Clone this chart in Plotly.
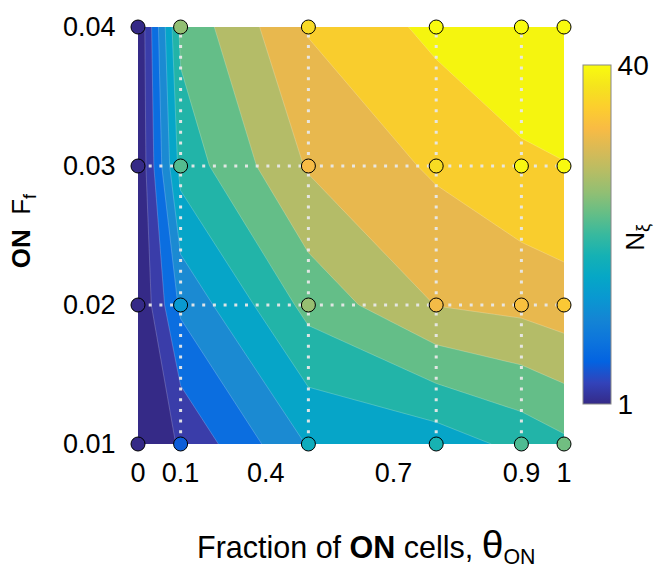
import plotly.graph_objects as go

# ---- data ----
theta_on = [0, 0.1, 0.4, 0.7, 0.9, 1]          # x grid (fraction of ON cells)
ff_on = [0.01, 0.02, 0.03, 0.04]                # y grid (ON F_f)
# N_xi values, rows = ff_on, cols = theta_on
n_xi = [
    [1, 5.4, 16.9, 18.3, 21.7, 23.6],
    [1, 13.5, 25.7, 32.3, 33.3, 34.4],
    [1, 22.0, 32.6, 36.7, 39.5, 39.9],
    [1, 25.4, 36.4, 41.0, 42.0, 42.5],
]
x_tick_pos = [0, 0.1, 0.3, 0.6, 0.9, 1]
x_tick_text = ["0", "0.1", "0.4", "0.7", "0.9", "1"]
y_tick_vals = [0.01, 0.02, 0.03, 0.04]
y_tick_text = ["0.01", "0.02", "0.03", "0.04"]
grid_x = [0.1, 0.4, 0.7, 0.9]
grid_y = [0.02, 0.03]
cmin, cmax = 1, 40
level_start, level_end, level_size = 4.9, 40, 3.9

FONT = "Liberation Sans, Arial, sans-serif"

band_colors = ["#352a87", "#3a3da9", "#0b6ee0", "#1b8ad2", "#06a5c8", "#22b4a8",
               "#64be88", "#b4bc68", "#e8b84e", "#f9cd2d", "#f5f50f"]
band_scale = [[i / 10, c] for i, c in enumerate(band_colors)]

parula_pts = [
    (0.2081, 0.1663, 0.5292), (0.1959, 0.2645, 0.7279), (0.0117, 0.3875, 0.8820),
    (0.0498, 0.4586, 0.8641), (0.0793, 0.5200, 0.8312), (0.0343, 0.5966, 0.8199),
    (0.0228, 0.6535, 0.7768), (0.0843, 0.6928, 0.7062), (0.2178, 0.7250, 0.6193),
    (0.3953, 0.7459, 0.5244), (0.5709, 0.7485, 0.4494), (0.7184, 0.7411, 0.3905),
    (0.8507, 0.7299, 0.3360), (0.9739, 0.7314, 0.2666), (0.9880, 0.8066, 0.1794),
    (0.9589, 0.8949, 0.1132), (0.9763, 0.9831, 0.0538),
]
n = len(parula_pts)
parula = [[i / (n - 1), "rgb(%d,%d,%d)" % tuple(round(v * 255) for v in p)]
          for i, p in enumerate(parula_pts)]

fig = go.Figure()

fig.add_trace(go.Contour(
    x=theta_on, y=ff_on, z=n_xi,
    colorscale=band_scale, showscale=False,
    autocontour=False,
    contours=dict(start=level_start, end=level_end, size=level_size,
                  coloring="fill", showlines=True),
    line=dict(width=0.6, color="rgba(255,255,255,0.35)", smoothing=0),
    hoverinfo="skip",
))

# dotted grid lines through sample points
lx, ly = [], []
for gx in grid_x:
    lx += [gx, gx, None]
    ly += [ff_on[0], ff_on[-1], None]
for gy in grid_y:
    lx += [theta_on[0], theta_on[-1], None]
    ly += [gy, gy, None]
fig.add_trace(go.Scatter(
    x=lx, y=ly, mode="lines",
    line=dict(color="rgba(232,232,232,0.95)", width=3, dash="3px,7.7px"),
    hoverinfo="skip", showlegend=False, cliponaxis=False,
))

# sample points
px, py, pc = [], [], []
for j, yv in enumerate(ff_on):
    for i, xv in enumerate(theta_on):
        px.append(xv)
        py.append(yv)
        pc.append(n_xi[j][i])
fig.add_trace(go.Scatter(
    x=px, y=py, mode="markers", cliponaxis=False, showlegend=False,
    marker=dict(size=14, color=pc, colorscale=parula, cmin=cmin, cmax=cmax,
                line=dict(color="black", width=1),
                showscale=True,
                colorbar=dict(
                    x=1.0445, xanchor="left", xpad=0, ypad=0,
                    y=0.502, yanchor="middle",
                    thickness=28, thicknessmode="pixels",
                    len=339, lenmode="pixels",
                    outlinecolor="#888888", outlinewidth=1,
                    tickvals=[cmin, cmax], ticktext=[str(cmin), str(cmax)],
                    ticks="", ticklabelposition="outside",
                    tickfont=dict(size=28, color="black", family=FONT),
                )),
))

fig.update_layout(
    width=655, height=572,
    margin=dict(l=138, r=90, t=23, b=128),
    paper_bgcolor="white", plot_bgcolor="white",
    showlegend=False,
    font=dict(family=FONT, color="black"),
    xaxis=dict(range=[0, 1], tickvals=x_tick_pos, ticktext=x_tick_text,
               tickfont=dict(size=27), showgrid=False, zeroline=False,
               showline=False, ticks="outside", ticklen=0, ticklabelstandoff=5),
    yaxis=dict(range=[0.01, 0.04], tickvals=y_tick_vals, ticktext=y_tick_text,
               tickfont=dict(size=27), showgrid=False, zeroline=False,
               showline=False, ticks="outside", ticklen=0, ticklabelstandoff=16),
    annotations=[
        dict(text="<b>ON</b>  F<sub>f</sub>", xref="paper", yref="paper",
             x=(22 - 138) / 427, y=(444 - 229) / 421, xanchor="center", yanchor="middle",
             textangle=-90, showarrow=False, font=dict(size=26)),
        dict(text="Fraction of <b>ON</b> cells, <span style='font-size:39px'>θ</span><sub>ON</sub>",
             xref="paper", yref="paper",
             x=(367 - 138) / 427, y=(444 - 547) / 421,
             xanchor="center", yanchor="middle",
             showarrow=False, font=dict(size=30.5)),
        dict(text="N<sub>ξ</sub>", xref="paper", yref="paper",
             x=(638 - 138) / 427, y=(444 - 235) / 421,
             xanchor="center", yanchor="middle", textangle=-90,
             showarrow=False, font=dict(size=26)),
    ],
)

fig.write_html("out.html")
